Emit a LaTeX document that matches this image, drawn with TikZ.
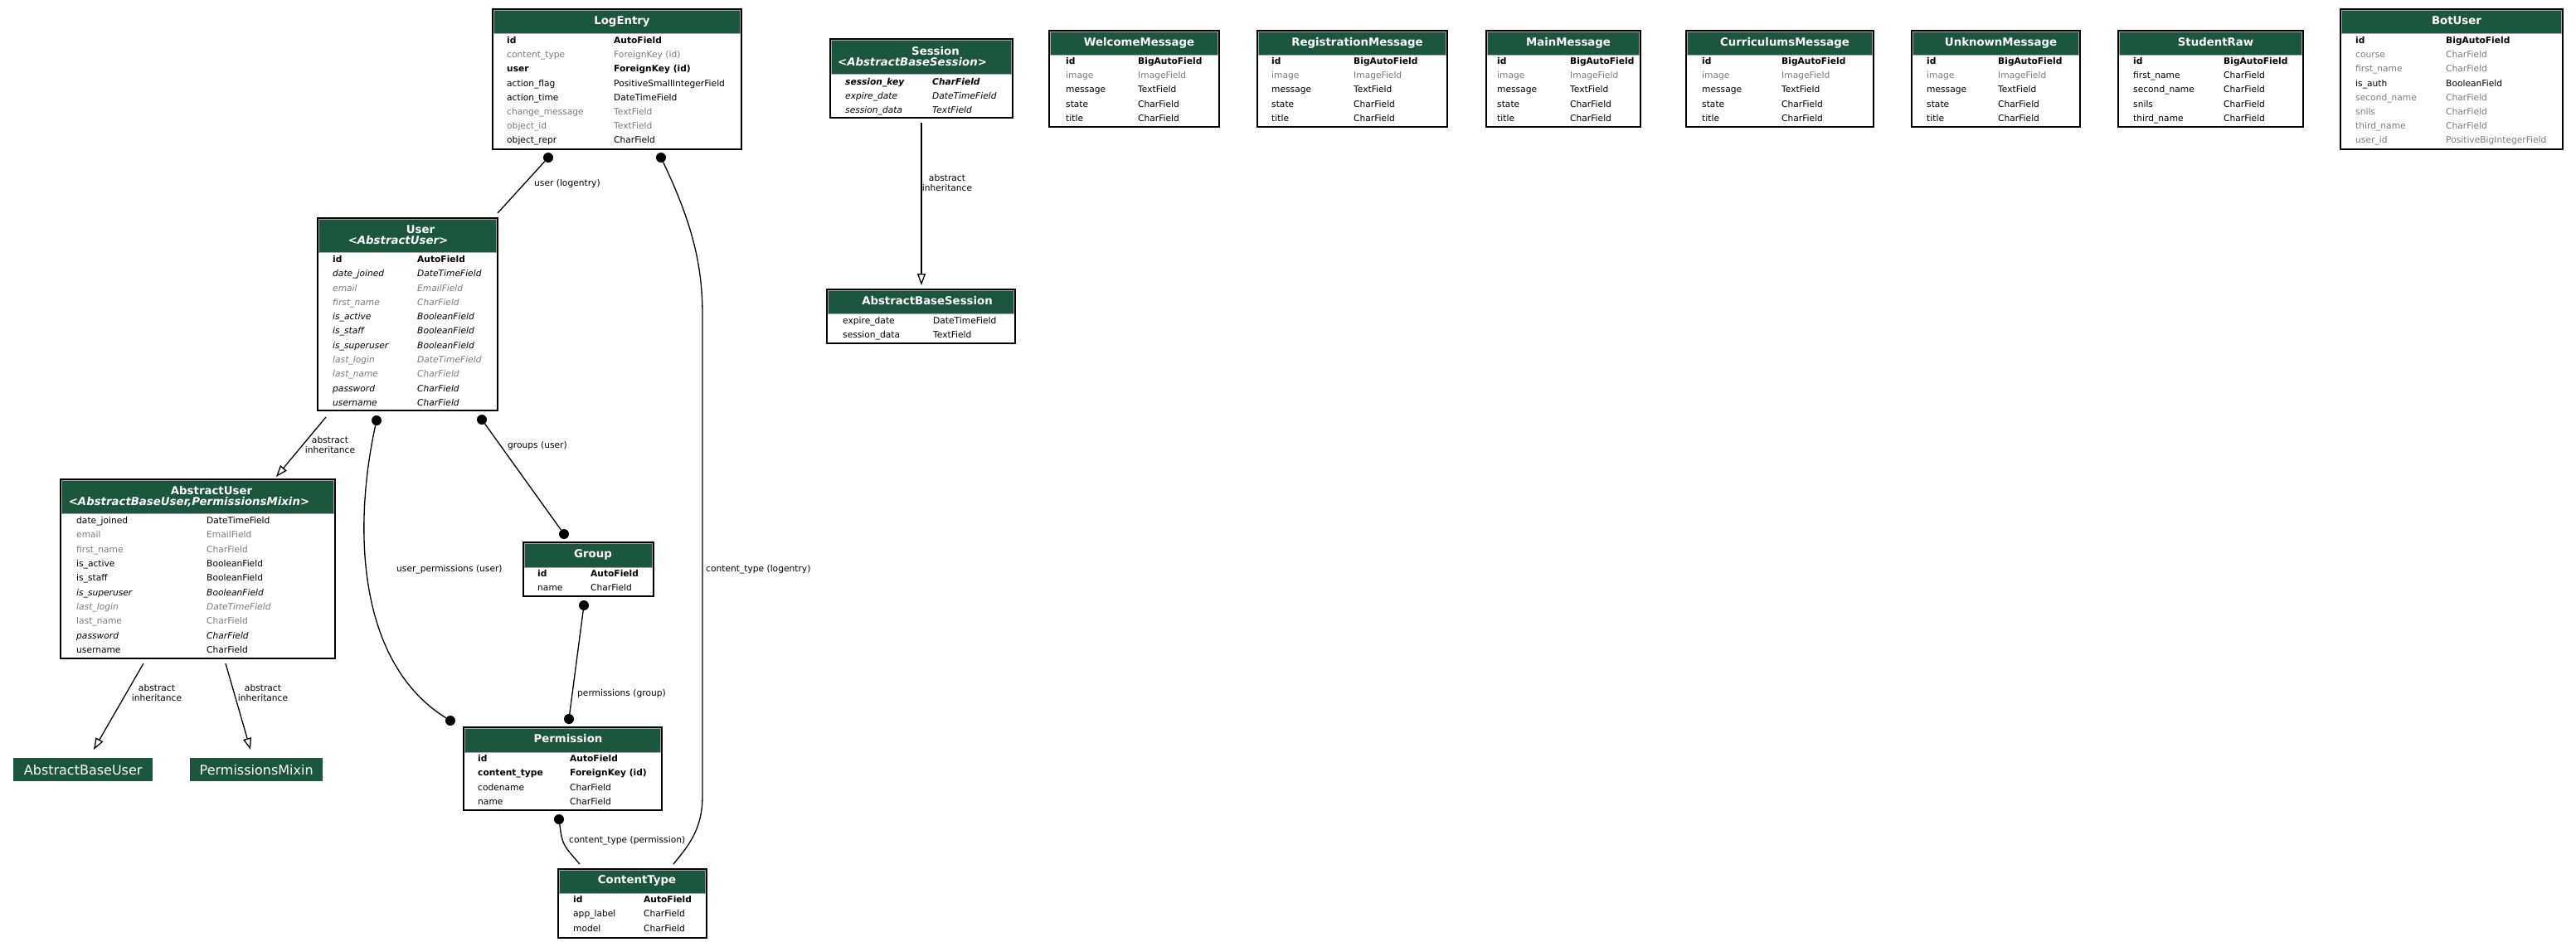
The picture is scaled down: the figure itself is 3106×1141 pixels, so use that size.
\documentclass[tikz,border=0pt]{standalone}
\usepackage{fontspec}
\setmainfont{DejaVu Sans}
\usetikzlibrary{arrows.meta,fit}
\definecolor{hdrgreen}{HTML}{1B563F}
\definecolor{nullgray}{HTML}{7B7B7B}
\begin{document}
\begin{tikzpicture}[x=1pt, y=-1pt,
    box/.style={draw=black, line width=1.6pt, inner sep=0pt},
    hdr/.style={fill=hdrgreen, draw=black!35, line width=0.8pt},
    hdrtext/.style={text=white, inner sep=0pt, anchor=base, yshift=-4.8pt, font=\fontsize{13.3}{15}\selectfont\bfseries},
    subtitle/.style={hdrtext, font=\fontsize{13.3}{15}\selectfont\bfseries\itshape},
    fld/.style={inner sep=0pt, anchor=base west, yshift=-5.4pt, font=\fontsize{10.67}{12}\selectfont},
    norm/.style={},
    pk/.style={font=\fontsize{10.67}{12}\selectfont\bfseries},
    nul/.style={text=nullgray},
    ital/.style={font=\fontsize{10.67}{12}\selectfont\itshape},
    nulital/.style={ital, text=nullgray},
    bital/.style={font=\fontsize{10.67}{12}\selectfont\bfseries\itshape},
    elabel/.style={inner sep=0pt, anchor=base west, yshift=-4.9pt, font=\fontsize{10.67}{12}\selectfont},
    inhlabel/.style={inner sep=0pt, align=center, font=\fontsize{10.67}{12}\selectfont},
    fk/.style={line width=1.3pt},
    fkdot/.style={circle, fill=black, inner sep=0pt, minimum size=12pt},
    inh/.style={line width=1.3pt, -{Triangle[open, length=14pt, width=10pt, line width=1.3pt]}},
    basebox/.style={fill=hdrgreen, text=white, inner sep=0pt, anchor=north west, minimum height=28pt, font=\fontsize{16}{18}\selectfont},
  ]
  \fill[white] (0,0) rectangle (3106,1141);
  \useasboundingbox (0,0) rectangle (3106,1141);

  % LogEntry
  \node[box, fit={(594,11) (894,180)}] (LogEntry) {};
  \draw[hdr] (595.5,12.5) rectangle (892.5,40);
  \node[hdrtext] (LogEntry-t) at (750,25) {LogEntry};
  \foreach \a/\b/\s [count=\i from 0] in {id/AutoField/pk, content\_type/ForeignKey (id)/nul, user/ForeignKey (id)/pk, action\_flag/PositiveSmallIntegerField/norm, action\_time/DateTimeField/norm, change\_message/TextField/nul, object\_id/TextField/nul, object\_repr/CharField/norm}{
    \node[fld,\s] (LogEntry-a\i) at (611,{47+17.2*\i}) {\a};
    \node[fld,\s] (LogEntry-b\i) at (740,{47+17.2*\i}) {\b};
  }

  % User
  \node[box, fit={(383,263) (600,495)}] (User) {};
  \draw[hdr] (384.5,264.5) rectangle (598.5,304);
  \node[hdrtext] (User-t) at (507,277) {User};
  \node[subtitle] (User-s) at (480,290) {<AbstractUser>};
  \foreach \a/\b/\s [count=\i from 0] in {id/AutoField/pk, date\_joined/DateTimeField/ital, email/EmailField/nulital, first\_name/CharField/nulital, is\_active/BooleanField/ital, is\_staff/BooleanField/ital, is\_superuser/BooleanField/ital, last\_login/DateTimeField/nulital, last\_name/CharField/nulital, password/CharField/ital, username/CharField/ital}{
    \node[fld,\s] (User-a\i) at (401,{311+17.3*\i}) {\a};
    \node[fld,\s] (User-b\i) at (503,{311+17.3*\i}) {\b};
  }

  % AbstractUser
  \node[box, fit={(73,578) (404,794)}] (AbstractUser) {};
  \draw[hdr] (74.5,579.5) rectangle (402.5,619);
  \node[hdrtext] (AbstractUser-t) at (255,592) {AbstractUser};
  \node[subtitle] (AbstractUser-s) at (228,605) {<AbstractBaseUser,PermissionsMixin>};
  \foreach \a/\b/\s [count=\i from 0] in {date\_joined/DateTimeField/norm, email/EmailField/nul, first\_name/CharField/nul, is\_active/BooleanField/norm, is\_staff/BooleanField/norm, is\_superuser/BooleanField/ital, last\_login/DateTimeField/nulital, last\_name/CharField/nul, password/CharField/ital, username/CharField/norm}{
    \node[fld,\s] (AbstractUser-a\i) at (92,{626+17.33*\i}) {\a};
    \node[fld,\s] (AbstractUser-b\i) at (249,{626+17.33*\i}) {\b};
  }
  \node[basebox, minimum width=168pt] (AbstractBaseUser) at (16,914) {AbstractBaseUser};
  \node[basebox, minimum width=160pt] (PermissionsMixin) at (229,914) {PermissionsMixin};

  % Session
  \node[box, fit={(1001,47) (1221,142)}] (Session) {};
  \draw[hdr] (1002.5,48.5) rectangle (1219.5,89);
  \node[hdrtext] (Session-t) at (1128,62) {Session};
  \node[subtitle] (Session-s) at (1100,75) {<AbstractBaseSession>};
  \foreach \a/\b/\s [count=\i from 0] in {session\_key/CharField/bital, expire\_date/DateTimeField/ital, session\_data/TextField/ital}{
    \node[fld,\s] (Session-a\i) at (1019,{97+17*\i}) {\a};
    \node[fld,\s] (Session-b\i) at (1124,{97+17*\i}) {\b};
  }

  % AbstractBaseSession
  \node[box, fit={(997,349) (1224,414)}] (AbstractBaseSession) {};
  \draw[hdr] (998.5,350.5) rectangle (1222.5,378);
  \node[hdrtext] (AbstractBaseSession-t) at (1118,363) {AbstractBaseSession};
  \foreach \a/\b/\s [count=\i from 0] in {expire\_date/DateTimeField/norm, session\_data/TextField/norm}{
    \node[fld,\s] (AbstractBaseSession-a\i) at (1016,{385+17*\i}) {\a};
    \node[fld,\s] (AbstractBaseSession-b\i) at (1125,{385+17*\i}) {\b};
  }

  % bot messages
  \foreach \nm/\xa/\xb/\ca/\cb in {WelcomeMessage/1265/1470/1285/1372, RegistrationMessage/1516/1745/1533/1632, MainMessage/1792/1978/1805/1893, CurriculumsMessage/2033/2259/2052/2148, UnknownMessage/2305/2508/2323/2409}{
    \node[box, fit={(\xa,37) (\xb,153)}] (\nm) {};
    \draw[hdr] ({\xa+1.5},38.5) rectangle ({\xb-1.5},66);
    \node[hdrtext] (\nm-t) at ({(\xa+\xb)/2+6},51) {\nm};
    \foreach \a/\b/\s [count=\i from 0] in {id/BigAutoField/pk, image/ImageField/nul, message/TextField/norm, state/CharField/norm, title/CharField/norm}{
      \node[fld,\s] (\nm-a\i) at (\ca,{72+17.2*\i}) {\a};
      \node[fld,\s] (\nm-b\i) at (\cb,{72+17.2*\i}) {\b};
    }
  }

  % StudentRaw
  \node[box, fit={(2554,37) (2777,153)}] (StudentRaw) {};
  \draw[hdr] (2555.5,38.5) rectangle (2775.5,66);
  \node[hdrtext] (StudentRaw-t) at (2671.5,51) {StudentRaw};
  \foreach \a/\b/\s [count=\i from 0] in {id/BigAutoField/pk, first\_name/CharField/norm, second\_name/CharField/norm, snils/CharField/norm, third\_name/CharField/norm}{
    \node[fld,\s] (StudentRaw-a\i) at (2572,{72+17.2*\i}) {\a};
    \node[fld,\s] (StudentRaw-b\i) at (2681,{72+17.2*\i}) {\b};
  }

  % BotUser
  \node[box, fit={(2822,11) (3090,180)}] (BotUser) {};
  \draw[hdr] (2823.5,12.5) rectangle (3088.5,40);
  \node[hdrtext] (BotUser-t) at (2962,25) {BotUser};
  \foreach \a/\b/\s [count=\i from 0] in {id/BigAutoField/pk, course/CharField/nul, first\_name/CharField/nul, is\_auth/BooleanField/norm, second\_name/CharField/nul, snils/CharField/nul, third\_name/CharField/nul, user\_id/PositiveBigIntegerField/nul}{
    \node[fld,\s] (BotUser-a\i) at (2840,{47+17.2*\i}) {\a};
    \node[fld,\s] (BotUser-b\i) at (2949,{47+17.2*\i}) {\b};
  }

  % Group
  \node[box, fit={(631,654) (788,719)}] (Group) {};
  \draw[hdr] (632.5,655.5) rectangle (786.5,684);
  \node[hdrtext] (Group-t) at (715,668) {Group};
  \foreach \a/\b/\s [count=\i from 0] in {id/AutoField/pk, name/CharField/norm}{
    \node[fld,\s] (Group-a\i) at (648,{690+17*\i}) {\a};
    \node[fld,\s] (Group-b\i) at (712,{690+17*\i}) {\b};
  }

  % Permission
  \node[box, fit={(559,877) (798,977)}] (Permission) {};
  \draw[hdr] (560.5,878.5) rectangle (796.5,907);
  \node[hdrtext] (Permission-t) at (685,891) {Permission};
  \foreach \a/\b/\s [count=\i from 0] in {id/AutoField/pk, content\_type/ForeignKey (id)/pk, codename/CharField/norm, name/CharField/norm}{
    \node[fld,\s] (Permission-a\i) at (576,{913+17.3*\i}) {\a};
    \node[fld,\s] (Permission-b\i) at (687,{913+17.3*\i}) {\b};
  }

  % ContentType
  \node[box, fit={(673,1048) (852,1131)}] (ContentType) {};
  \draw[hdr] (674.5,1049.5) rectangle (850.5,1077);
  \node[hdrtext] (ContentType-t) at (768,1061) {ContentType};
  \foreach \a/\b/\s [count=\i from 0] in {id/AutoField/pk, app\_label/CharField/norm, model/CharField/norm}{
    \node[fld,\s] (ContentType-a\i) at (691,{1083+17.3*\i}) {\a};
    \node[fld,\s] (ContentType-b\i) at (776,{1083+17.3*\i}) {\b};
  }

  % foreign keys
  \node[fkdot] (le-user) at (661,190) {};
  \coordinate (user-in) at (600,257);
  \draw[fk] (le-user) -- (user-in);
  \node[elabel] (l-user) at (644,220) {user (logentry)};

  \node[fkdot] (le-ct) at (797,190) {};
  \coordinate (ct-in1) at (812,1042);
  \draw[fk] (le-ct) .. controls (835,270) and (847,320) .. (847,380) -- (847,960) .. controls (847,1000) and (830,1020) .. (ct-in1);
  \node[elabel] (l-ct1) at (851,685) {content\_type (logentry)};

  \node[fkdot] (u-grp) at (581,506) {};
  \node[fkdot] (grp-u) at (680,644) {};
  \draw[fk] (u-grp) -- (grp-u);
  \node[elabel] (l-grp) at (612,536) {groups (user)};

  \node[fkdot] (u-perm) at (454,507) {};
  \node[fkdot] (perm-u) at (543,869) {};
  \draw[fk] (u-perm) .. controls (425,640) and (432,800) .. (perm-u);
  \node[elabel] (l-uperm) at (478,685) {user\_permissions (user)};

  \node[fkdot] (grp-perm) at (704,730) {};
  \node[fkdot] (perm-grp) at (686,867) {};
  \draw[fk] (grp-perm) -- (perm-grp);
  \node[elabel] (l-gperm) at (696,835) {permissions (group)};

  \node[fkdot] (perm-ct) at (674,988) {};
  \coordinate (ct-in2) at (699,1042);
  \draw[fk] (perm-ct) .. controls (678,1018) .. (ct-in2);
  \node[elabel] (l-ct2) at (686,1012) {content\_type (permission)};

  % abstract inheritance
  \coordinate (u-inh) at (393,503);
  \coordinate (au-top) at (333,575);
  \draw[inh] (u-inh) -- (au-top);
  \node[inhlabel] (l-inh1) at (398,537) {abstract\\inheritance};

  \coordinate (au-inh1) at (173,800);
  \coordinate (abu-top) at (113,904);
  \draw[inh] (au-inh1) -- (abu-top);
  \node[inhlabel] (l-inh2) at (189,836) {abstract\\inheritance};

  \coordinate (au-inh2) at (272,800);
  \coordinate (pm-top) at (302,904);
  \draw[inh] (au-inh2) -- (pm-top);
  \node[inhlabel] (l-inh3) at (317,836) {abstract\\inheritance};

  \coordinate (s-inh) at (1111,148);
  \coordinate (abs-top) at (1111,344);
  \draw[inh] (s-inh) -- (abs-top);
  \node[inhlabel] (l-inh4) at (1142,221) {abstract\\inheritance};
\end{tikzpicture}
\end{document}
